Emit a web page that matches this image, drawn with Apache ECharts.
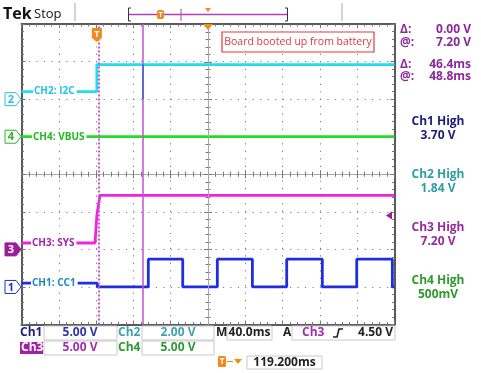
<!DOCTYPE html>
<html><head><meta charset="utf-8">
<script src="https://cdn.jsdelivr.net/npm/echarts@6/dist/echarts.min.js"></script>
<style>html,body{margin:0;padding:0;background:#fff}#c{width:481px;height:373px}</style>
</head><body><div id="c"></div><script>
// ---- data (time in ms relative to trigger, values in volts) ----
const H_POS = 119.2;                 // trigger -> screen centre (ms)
const ch1Time  = [-80.8, 0.5, 0.5, 55.2, 55.2, 92.1, 92.1, 129.2, 129.2, 166.8, 166.8, 203.6, 203.6, 241.8, 241.8, 278.7, 278.7, 316.9, 316.9, 319.2];
const ch1Volts = [0.5, 0.5, 0, 0, 3.7, 3.7, 0, 0, 3.7, 3.7, 0, 0, 3.7, 3.7, 0, 0, 3.7, 3.7, 0, 0];
const ch2Time  = [-80.8, 0, 0, 319.2];
const ch2Volts = [0.4, 0.4, 1.84, 1.84];
const ch3Time  = [-80.8, -1.9, 0, 3.4, 319.2];
const ch3Volts = [0.85, 0.85, 4.5, 7.2, 7.2];
const ch4Time  = [-80.8, 319.2];
const ch4Volts = [0, 0];
const cursor1 = 2.4, cursor2 = 48.8;  // ms
const glitchVolts = [1.84, 0.0];      // CH2 dip at cursor 2
const trigLevel = 4.5;               // V on CH3

// ---- channel settings ----
const chs = {
  ch1: {offset: -3.0, scale: 5, color: '#1f2ee0'},
  ch2: {offset: 2.0, scale: 2, color: '#22dcf0'},
  ch3: {offset: -2.0, scale: 5, color: '#f024e0'},
  ch4: {offset: 1.0, scale: 5, color: '#22dd22'}
};
const toDiv = (times, volts, c) => times.map((t, i) => [t - H_POS, c.offset + volts[i] / c.scale]);

const gridDot = {color: '#808080', type: [1.2, 6.26], width: 1.1};
const frameLine = {color: '#5a5a5a', width: 2};
const tickStyle = {color: '#777', width: 1};
const centreLine = {color: '#a8a8a8', width: 1};
function xAx(extra) {
  return Object.assign({type: 'value', min: -200, max: 200, interval: 40, axisLabel: {show: false},
    axisTick: {show: true, inside: true, length: 4, lineStyle: tickStyle},
    minorTick: {show: true, splitNumber: 5, length: 2.5, lineStyle: tickStyle},
    splitLine: {show: false}}, extra);
}
function yAx(extra) {
  return Object.assign({type: 'value', min: -4, max: 4, interval: 1, axisLabel: {show: false},
    axisTick: {show: true, inside: true, length: 4, lineStyle: tickStyle},
    minorTick: {show: true, splitNumber: 5, length: 2.5, lineStyle: tickStyle},
    splitLine: {show: false}}, extra);
}

const chart = echarts.init(document.getElementById('c'));
const series = [
  {name: 'CH4', data: toDiv(ch4Time, ch4Volts, chs.ch4), color: chs.ch4.color},
  {name: 'CH2', data: toDiv(ch2Time, ch2Volts, chs.ch2), color: chs.ch2.color},
  {name: 'CH3', data: toDiv(ch3Time, ch3Volts, chs.ch3), color: chs.ch3.color},
  {name: 'CH1', data: toDiv(ch1Time, ch1Volts, chs.ch1), color: chs.ch1.color}
].map(s => ({type: 'line', name: s.name, data: s.data, xAxisIndex: 0, yAxisIndex: 0, showSymbol: false,
  symbol: 'none', animation: false, lineStyle: {color: s.color, width: 2.8}, z: 3}));

series.push({type: 'line', data: [], xAxisIndex: 0, yAxisIndex: 0, z: 4, animation: false,
  markLine: {silent: true, symbol: ['none', 'none'], animation: false, label: {show: false},
    data: [
      {xAxis: cursor1 - H_POS, lineStyle: {color: '#c45ac8', type: [2, 2], width: 2}},
      {xAxis: cursor2 - H_POS, lineStyle: {color: '#c050d0', type: 'solid', width: 1.5}},
      [{coord: [cursor2 - H_POS, chs.ch2.offset + glitchVolts[0] / chs.ch2.scale], lineStyle: {color: '#4060d0', type: 'solid', width: 1.5}},
       {coord: [cursor2 - H_POS, chs.ch2.offset + glitchVolts[1] / chs.ch2.scale]}]
    ]}});
// vertical centre graticule line
series.push({type: 'line', data: [], xAxisIndex: 0, yAxisIndex: 0, z: 1, animation: false,
  markLine: {silent: true, symbol: ['none', 'none'], animation: false, label: {show: false},
    data: [{xAxis: 0, lineStyle: {color: '#a8a8a8', type: 'solid', width: 1}}]}});

chart.setOption({
  animation: false,
  grid: {left: 21.5, top: 24, width: 373, height: 300.5},
  xAxis: [
    xAx({position: 'bottom', axisLine: {onZero: false, lineStyle: frameLine}, splitLine: {show: true, lineStyle: gridDot}}),
    xAx({position: 'top', axisLine: {onZero: false, lineStyle: frameLine}}),
    xAx({position: 'bottom', axisLine: {onZero: true, onZeroAxisIndex: 0, lineStyle: centreLine}}),
    xAx({position: 'bottom', axisLine: {onZero: true, onZeroAxisIndex: 1, lineStyle: centreLine}, axisTick: {show: true, inside: false, length: 4, lineStyle: tickStyle}})
  ],
  yAxis: [
    yAx({position: 'left', axisLine: {onZero: false, lineStyle: frameLine}, splitLine: {show: true, lineStyle: gridDot}}),
    yAx({position: 'right', axisLine: {onZero: false, lineStyle: frameLine}})
  ],
  series: series
});

// ---- overlay graphics ----
const px = (t, d) => chart.convertToPixel({xAxisIndex: 0, yAxisIndex: 0}, [t - H_POS, d]);
const g = [];
const F = '"Open Sans", "DejaVu Sans", sans-serif';
function txt(x, y, s, font, color, align, extra) {
  g.push({type: 'text', z: 100, style: Object.assign({x: x, y: y, text: s, font: font, fill: color,
    textAlign: align || 'left', textVerticalAlign: 'middle', verticalAlign: 'middle'}, extra || {})});
}
function rect(x, y, w, h, fill, stroke, lw) {
  g.push({type: 'rect', z: 90, shape: {x: x, y: y, width: w, height: h}, style: {fill: fill, stroke: stroke || null, lineWidth: lw || 1}});
}

// ticks on vertical centre line (0.2 div minor, 1 div major), positioned through the y scale
const cxLine = px(H_POS, 0)[0];
for (let k = -20; k <= 20; k++) {
  const y = px(H_POS, k / 5)[1];
  const L = (k % 5 === 0) ? 4 : 2.5;
  g.push({type: 'line', z: 1, silent: true, shape: {x1: cxLine - L, y1: Math.round(y) + 0.5, x2: cxLine + L, y2: Math.round(y) + 0.5}, style: {stroke: '#777', lineWidth: 1}});
}

// trace labels (white background hides the trace)
const lab = [
  ['CH2: I2C', chs.ch2, ch2Volts[0], '#22c4e6', 33],
  ['CH4: VBUS', chs.ch4, ch4Volts[0], '#22b822', 32],
  ['CH3: SYS', chs.ch3, ch3Volts[0], '#a024a8', 31],
  ['CH1: CC1', chs.ch1, ch1Volts[0], '#1e86c8', 31]
];
lab.forEach(l => {
  const p = px(0, l[1].offset + l[2] / l[1].scale);
  txt(l[4], p[1], l[0], 'bold 10px ' + F, l[3], 'left', {backgroundColor: '#fff', padding: [2, 2, 2, 1]});
});

// channel ground markers
const mk = [['2', chs.ch2, '#22c4e6', false], ['4', chs.ch4, '#22b822', false], ['3', chs.ch3, '#9a1e96', true], ['1', chs.ch1, '#2030c0', false]];
mk.forEach(m => {
  const y = px(0, m[1].offset)[1];
  g.push({type: 'polygon', z: 95, shape: {points: [[5, y - 6.5], [16, y - 6.5], [21, y], [16, y + 6.5], [5, y + 6.5]]},
    style: {fill: m[3] ? m[2] : '#fff', stroke: m[2], lineWidth: 1}});
  txt(11, y + 0.5, m[0], 'bold 11px ' + F, m[3] ? '#fff' : m[2], 'center');
});

// trigger level arrow (right side)
const ty = px(0, chs.ch3.offset + trigLevel / chs.ch3.scale)[1];
g.push({type: 'polygon', z: 95, shape: {points: [[386, ty], [392, ty - 4], [392, ty + 4]]}, style: {fill: '#9a1e96'}});

// trigger T marker at top of graticule
const tx = px(0, 0)[0];
g.push({type: 'polygon', z: 95, shape: {points: [[tx - 5, 28], [tx + 5, 28], [tx + 5, 38], [tx, 42], [tx - 5, 38]]}, style: {fill: '#f08a1c'}});
txt(tx, 34, 'T', 'bold 9px ' + F, '#fff', 'center');
// centre marker triangle
g.push({type: 'polygon', z: 95, shape: {points: [[cxLine - 5, 24], [cxLine + 5, 24], [cxLine, 30]]}, style: {fill: '#f08a1c'}});

// red note box
rect(222, 32, 152, 20, '#fff', '#e03a3a', 1.2);
txt(298, 42.5, 'Board booted up from battery', '10.5px ' + F, '#e0383c', 'center');

// top bar
txt(3, 14, 'Tek', 'bold 16px ' + F, '#111', 'left');
txt(34, 14.5, 'Stop', '13px ' + F, '#111', 'left');
g.push({type: 'line', z: 95, shape: {x1: 75, y1: 3, x2: 75, y2: 21}, style: {stroke: '#aaa', lineWidth: 1}});
g.push({type: 'line', z: 95, shape: {x1: 342, y1: 3, x2: 342, y2: 21}, style: {stroke: '#aaa', lineWidth: 1}});
g.push({type: 'polyline', z: 95, shape: {points: [[131, 8], [128.5, 8], [128.5, 21], [131, 21]]}, style: {stroke: '#333', lineWidth: 1, fill: null}});
g.push({type: 'polyline', z: 95, shape: {points: [[285, 8], [287.5, 8], [287.5, 21], [285, 21]]}, style: {stroke: '#333', lineWidth: 1, fill: null}});
g.push({type: 'line', z: 95, shape: {x1: 129, y1: 14.5, x2: 287, y2: 14.5}, style: {stroke: '#b040b8', lineWidth: 1.5}});
g.push({type: 'line', z: 95, shape: {x1: 181, y1: 9, x2: 181, y2: 21}, style: {stroke: '#b040b8', lineWidth: 1}});
g.push({type: 'rect', z: 96, shape: {x: 157, y: 10, width: 7, height: 9, r: 2}, style: {fill: '#f08a1c'}});
txt(160.5, 14.5, 'T', 'bold 7px ' + F, '#fff', 'center');
g.push({type: 'polygon', z: 95, shape: {points: [[205, 8], [211, 8], [208, 12]]}, style: {fill: '#f08a1c'}});

// right readouts
const pc = '#8a2a9a';
[['\u0394:', '0.00 V', 30], ['@:', '7.20 V', 43], ['\u0394:', '46.4ms', 65], ['@:', '48.8ms', 77]].forEach(r => {
  txt(400, r[2], r[0], 'bold 12px ' + F, pc, 'left');
  txt(471, r[2], r[1], 'bold 12px ' + F, pc, 'right');
});
[['Ch1 High', '3.70 V', 122, '#1c1c78'], ['Ch2 High', '1.84 V', 175, '#2e9ea4'], ['Ch3 High', '7.20 V', 228, '#9a2a9e'], ['Ch4 High', '500mV', 281, '#2e9a2e']].forEach(r => {
  txt(438, r[2], r[0], 'bold 12px ' + F, r[3], 'center');
  txt(438, r[2] + 14, r[1], 'bold 12px ' + F, r[3], 'center');
});

// bottom readouts
const bf = 'bold 12px ' + F;
rect(44, 326, 73, 14, '#fff', '#c8c8c8'); rect(142, 326, 72, 14, '#fff', '#c8c8c8');
rect(227, 326, 45, 14, '#fff', '#c8c8c8'); rect(292, 326, 103, 14, '#fff', '#c8c8c8');
rect(44, 341, 73, 14, '#fff', '#c8c8c8'); rect(142, 341, 72, 14, '#fff', '#c8c8c8');
rect(247, 356, 75, 13, '#fff', '#c8c8c8');
txt(20, 333, 'Ch1', bf, '#1c1c80'); txt(80, 333, '5.00 V', bf, '#3434a8', 'center');
txt(118, 333, 'Ch2', bf, '#40a4b0'); txt(178, 333, '2.00 V', bf, '#40a4b0', 'center');
txt(216, 333, 'M', bf, '#222'); txt(249.5, 333, '40.0ms', bf, '#222', 'center');
txt(283, 333, 'A', bf, '#222'); txt(302, 333, 'Ch3', bf, '#a030b0');
g.push({type: 'polyline', z: 100, shape: {points: [[333, 337], [337, 337], [339, 329], [343, 329]]}, style: {stroke: '#222', lineWidth: 1.6, fill: null}});
txt(393, 333, '4.50 V', bf, '#222', 'right');
rect(20, 342, 23, 12, '#a020a8');
txt(21, 348, 'Ch3', bf, '#fff'); txt(80, 348, '5.00 V', bf, '#a030b0', 'center');
txt(118, 348, 'Ch4', bf, '#2e9a2e'); txt(178, 348, '5.00 V', bf, '#2e9a2e', 'center');
g.push({type: 'rect', z: 96, shape: {x: 218, y: 356, width: 8, height: 11, r: 1.5}, style: {fill: '#f08a1c'}});
txt(222, 361.5, 'T', 'bold 8px ' + F, '#fff', 'center');
g.push({type: 'line', z: 96, shape: {x1: 227, y1: 361.5, x2: 233, y2: 361.5}, style: {stroke: '#f08a1c', lineWidth: 1}});
g.push({type: 'polygon', z: 96, shape: {points: [[234, 359], [242, 359], [238, 364]]}, style: {fill: '#f08a1c'}});
txt(284.5, 362.5, '119.200ms', bf, '#222', 'center');

chart.setOption({graphic: g});
</script></body></html>
